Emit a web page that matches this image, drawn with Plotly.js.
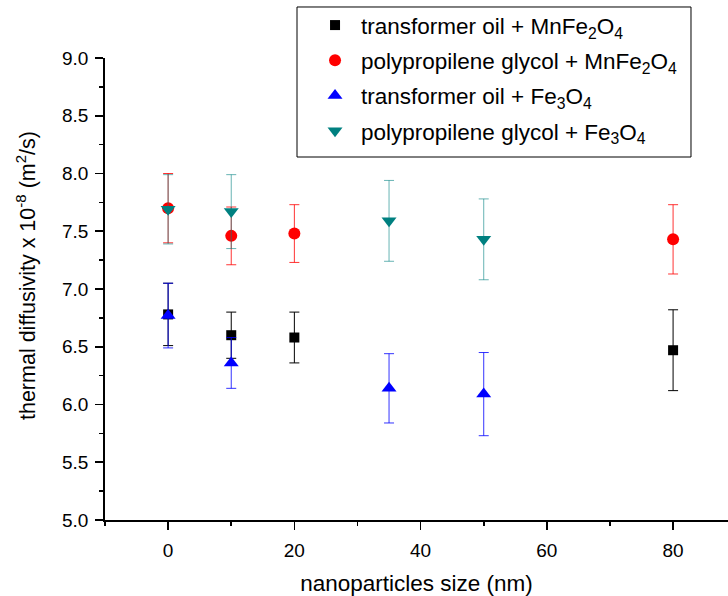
<!DOCTYPE html>
<html>
<head>
<meta charset="utf-8">
<script src="https://cdn.plot.ly/plotly-3.0.1.min.js"></script>
<style>html,body{margin:0;padding:0;background:#fff;}#chart{width:728px;height:596px;}</style>
</head>
<body>
<div id="chart"></div>
<script>
// Data
const sizeMn = [0, 10, 20, 80];
const sizeFe = [0, 10, 35, 50];

const oilMn = [6.78, 6.60, 6.58, 6.47];
const oilMnErr = [0.27, 0.20, 0.22, 0.35];

const pgMn = [7.70, 7.46, 7.48, 7.43];
const pgMnErr = [0.30, 0.25, 0.25, 0.30];

const oilFe = [6.77, 6.36, 6.14, 6.09];
const oilFeErr = [0.28, 0.22, 0.30, 0.36];

const pgFe = [7.69, 7.67, 7.59, 7.43];
const pgFeErr = [0.30, 0.32, 0.35, 0.35];

const names = [
  'transformer oil + MnFe<sub>2</sub>O<sub>4</sub>',
  'polypropilene glycol + MnFe<sub>2</sub>O<sub>4</sub>',
  'transformer oil + Fe<sub>3</sub>O<sub>4</sub>',
  'polypropilene glycol + Fe<sub>3</sub>O<sub>4</sub>'
];
const yTitle = 'thermal diffusivity x 10<sup>-8</sup> (m<sup>2</sup>/s)';
const xTitle = 'nanoparticles size (nm)';

function tr(x, y, e, name, sym, col, ecol, size, grp) {
  return {
    type: 'scatter', mode: 'markers', x: x, y: y, name: name, legendgroup: grp,
    marker: {symbol: sym, color: col, size: size, line: {width: 0}},
    error_y: {type: 'data', array: e, visible: true, color: ecol, thickness: 1, width: 5},
    cliponaxis: false
  };
}

const data = [
  tr(sizeMn, oilMn, oilMnErr, names[0], 'square', '#000000', '#000000', 10, 'a'),
  tr(sizeMn, pgMn, pgMnErr, names[1], 'circle', '#FF0000', 'rgba(255,0,0,0.8)', 12, 'b'),
  tr(sizeFe, oilFe, oilFeErr, names[2], 'triangle-up', '#0000FF', 'rgba(0,0,255,0.8)', 13, 'c'),
  tr(sizeFe, pgFe, pgFeErr, names[3], 'triangle-down', '#008080', 'rgba(0,128,128,0.6)', 13, 'd')
];

const font = 'Liberation Sans, Arial, sans-serif';
const layout = {
  width: 728, height: 596,
  margin: {l: 105, r: 0, t: 58, b: 76, pad: 0},
  paper_bgcolor: '#fff', plot_bgcolor: '#fff',
  font: {family: font, color: '#000', size: 19},
  showlegend: true,
  legend: {
    x: 0.3275, y: 1.117, xanchor: 'left', yanchor: 'top',
    bgcolor: 'rgba(0,0,0,0)', borderwidth: 0,
    font: {family: font, size: 22.5, color: '#000'},
    itemwidth: 42, tracegroupgap: 3
  },
  shapes: [{
    type: 'rect', xref: 'paper', yref: 'paper',
    x0: 0.3082, x1: 0.9406, y0: 0.7857, y1: 1.1104,
    line: {color: '#000', width: 1}, fillcolor: 'rgba(0,0,0,0)'
  }],
  annotations: [{
    text: yTitle, xref: 'paper', yref: 'paper', x: -0.127, y: 0.530,
    xanchor: 'center', yanchor: 'middle', textangle: -90, showarrow: false,
    font: {family: font, size: 21.5, color: '#000'}
  }],
  xaxis: {
    range: [-10, 88.7], showgrid: false, zeroline: false,
    showline: true, linecolor: '#000', linewidth: 1.8,
    ticks: 'outside', ticklen: 8, tickwidth: 1.6, tickcolor: '#000',
    dtick: 20, tick0: 0, ticklabelstandoff: 4,
    minor: {dtick: 10, ticks: 'outside', ticklen: 4.5, tickwidth: 1.6, tickcolor: '#000'},
    tickfont: {size: 19},
    title: {text: xTitle, font: {size: 22.5}, standoff: 16},
    automargin: false
  },
  yaxis: {
    range: [5, 9], showgrid: false, zeroline: false,
    showline: true, linecolor: '#000', linewidth: 1.8,
    ticks: 'outside', ticklen: 8, tickwidth: 1.6, tickcolor: '#000',
    dtick: 0.5, tick0: 5, tickformat: '.1f', ticklabelstandoff: 3,
    minor: {dtick: 0.25, ticks: 'outside', ticklen: 4.5, tickwidth: 1.6, tickcolor: '#000'},
    tickfont: {size: 19},
    automargin: false
  }
};

Plotly.newPlot('chart', data, layout, {staticPlot: true, displayModeBar: false});
</script>
</body>
</html>
